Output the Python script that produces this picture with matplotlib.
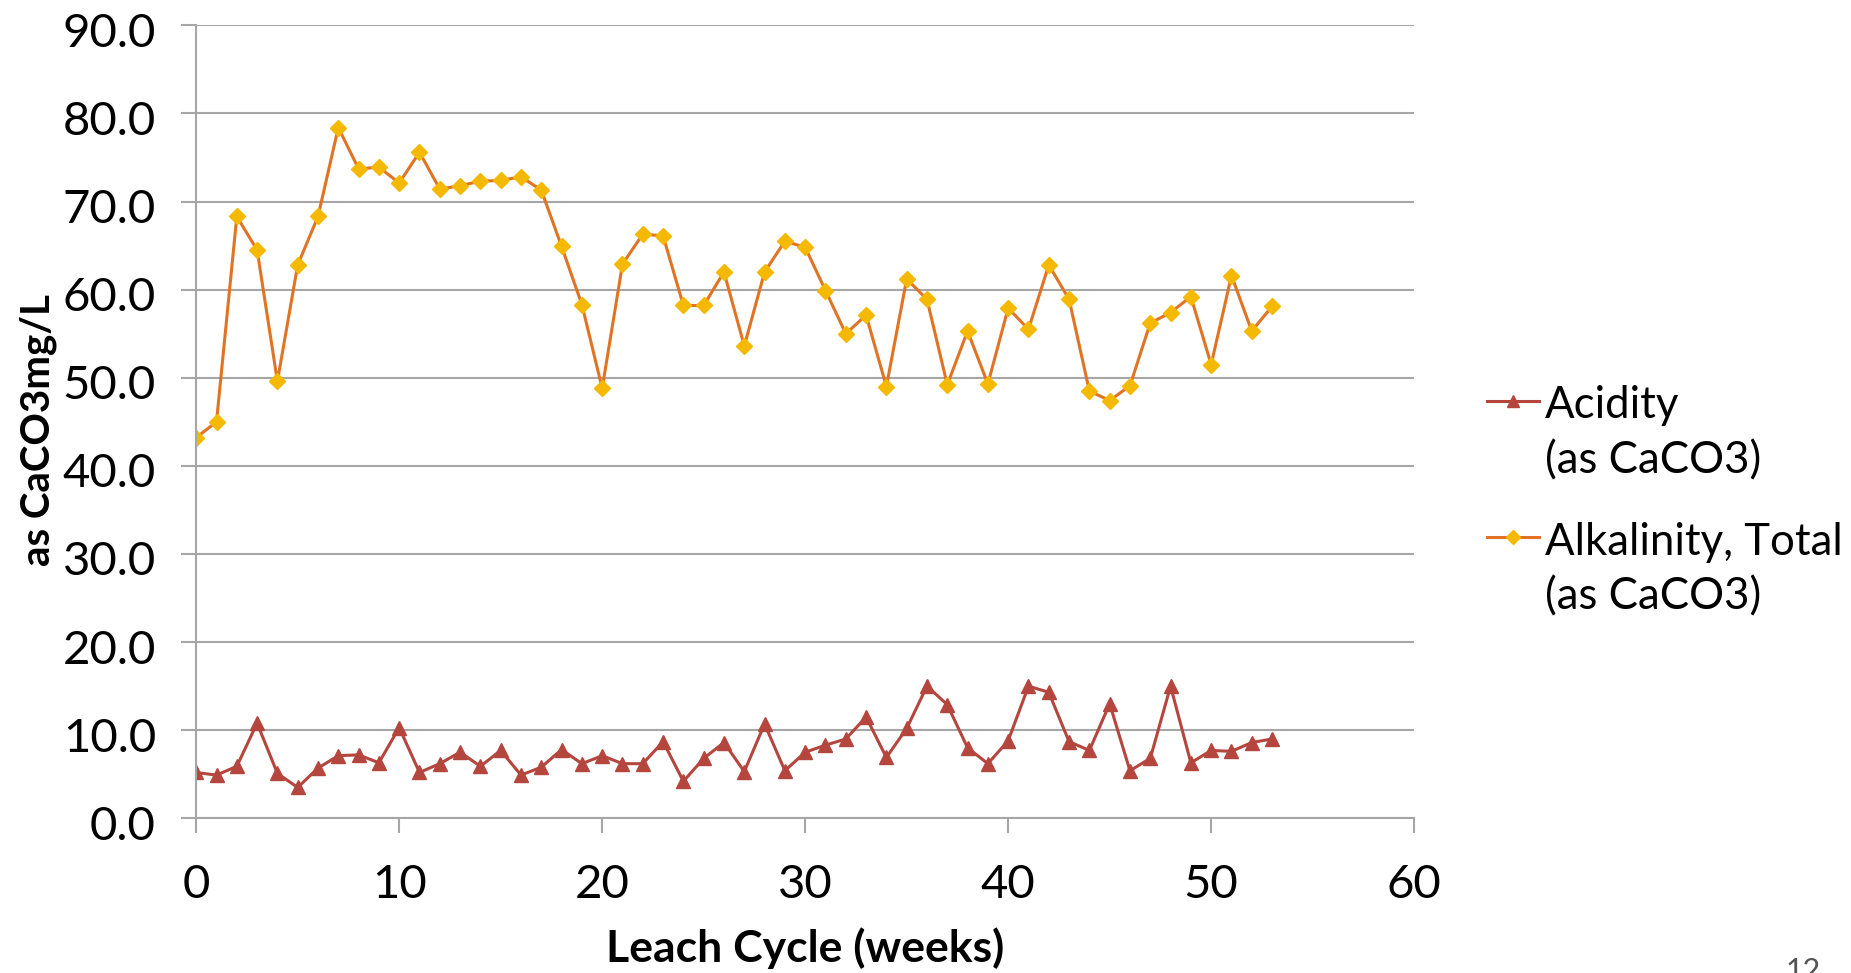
import matplotlib.pyplot as plt
from matplotlib.lines import Line2D
from matplotlib.ticker import FormatStrFormatter
from matplotlib.transforms import ScaledTranslation

# Datos
semanas = list(range(54))
acidez = [5.2, 4.9, 5.9, 10.8, 5.1, 3.5, 5.7, 7.1, 7.2, 6.3,
          10.3, 5.2, 6.2, 7.5, 5.9, 7.7, 4.9, 5.8, 7.8, 6.2,
          7.1, 6.2, 6.2, 8.7, 4.2, 6.8, 8.6, 5.3, 10.7, 5.4,
          7.5, 8.3, 9.0, 11.5, 6.9, 10.2, 15.0, 12.9, 8.0, 6.2,
          8.8, 15.0, 14.3, 8.7, 7.7, 13.0, 5.4, 6.8, 15.0, 6.3,
          7.7, 7.6, 8.6, 9.0]
alcalinidad = [43.2, 45.0, 68.3, 64.5, 49.6, 62.8, 68.3, 78.4, 73.7, 73.9,
               72.1, 75.6, 71.4, 71.8, 72.3, 72.4, 72.8, 71.3, 64.9, 58.3,
               48.8, 62.9, 66.3, 66.1, 58.2, 58.2, 62.0, 53.6, 62.0, 65.5,
               64.8, 59.9, 55.0, 57.1, 49.0, 61.2, 58.9, 49.2, 55.3, 49.3,
               57.9, 55.5, 62.8, 58.9, 48.5, 47.4, 49.1, 56.2, 57.4, 59.2,
               51.5, 61.6, 55.3, 58.1]
etiquetas = [("Acidity", "(as CaCO3)"), ("Alkalinity, Total", "(as CaCO3)")]

plt.rcParams["font.family"] = ["Lato", "DejaVu Sans"]

ROJO = "#B5463E"
NARANJA = "#E07424"
DORADO = "#F4B900"

fig = plt.figure(figsize=(18.51, 9.73), dpi=100)
ax = fig.add_axes([0.106, 0.159, 0.658, 0.815])

ax.plot(semanas, acidez, color=ROJO, lw=2.2, marker="^",
        markersize=10, markerfacecolor=ROJO, markeredgecolor=ROJO)
ax.plot(semanas, alcalinidad, color=NARANJA, lw=2.2, marker="D",
        markersize=7.8, markerfacecolor=DORADO, markeredgecolor=DORADO)

ax.set_xlim(0, 60)
ax.set_ylim(0, 90)
ax.set_xticks(range(0, 61, 10))
ax.set_yticks(range(0, 91, 10))
ax.yaxis.set_major_formatter(FormatStrFormatter("%.1f"))
ax.grid(axis="y", color="#A6A6A6", lw=1.5)
ax.set_axisbelow(True)
for lado in ["top", "right"]:
    ax.spines[lado].set_visible(False)
for lado in ["left", "bottom"]:
    ax.spines[lado].set_color("#A6A6A6")
    ax.spines[lado].set_linewidth(1.5)
ax.tick_params(axis="both", colors="#A6A6A6", width=1.5, length=11,
               labelsize=34, labelcolor="black")
ax.tick_params(axis="x", pad=22)
ax.tick_params(axis="y", pad=18)

# las etiquetas del eje y quedan un poco por debajo de la línea de rejilla
desplazamiento = ScaledTranslation(0, -3.2 / 72, fig.dpi_scale_trans)
for etiqueta in ax.get_yticklabels():
    etiqueta.set_transform(etiqueta.get_transform() + desplazamiento)

ax.set_xlabel("Leach Cycle (weeks)", fontsize=32, fontweight="bold")
ax.set_ylabel("as CaCO3mg/L", fontsize=29, fontweight="bold")
ax.xaxis.set_label_coords(0.5, -0.164)
ax.xaxis.label.set_va("center")
ax.yaxis.set_label_coords(-0.13, 0.49)
ax.yaxis.label.set_va("center")

# Leyenda dibujada a mano: el símbolo queda alineado con la primera línea
entradas = [(ROJO, ROJO, "^", 10, 0.5882, 0.5704, 0.5139),
            (NARANJA, DORADO, "D", 7.8, 0.4481, 0.4296, 0.3741)]
for (linea, relleno, marca, tam, y_sim, y1, y2), (txt1, txt2) in zip(entradas, etiquetas):
    fig.add_artist(Line2D([0.8034, 0.8314], [y_sim, y_sim], transform=fig.transFigure,
                          color=linea, lw=2.2))
    fig.add_artist(Line2D([0.8174], [y_sim], transform=fig.transFigure, marker=marca,
                          markersize=tam * 0.85, markerfacecolor=relleno,
                          markeredgecolor=relleno, lw=0))
    fig.text(0.8347, y1, txt1, fontsize=31.5, va="baseline", ha="left")
    fig.text(0.8347, y2, txt2, fontsize=31.5, va="baseline", ha="left")

fig.text(0.974, -0.012, "12", fontsize=22, color="#555555", ha="center", va="bottom")

plt.savefig("out.png", dpi=100)
